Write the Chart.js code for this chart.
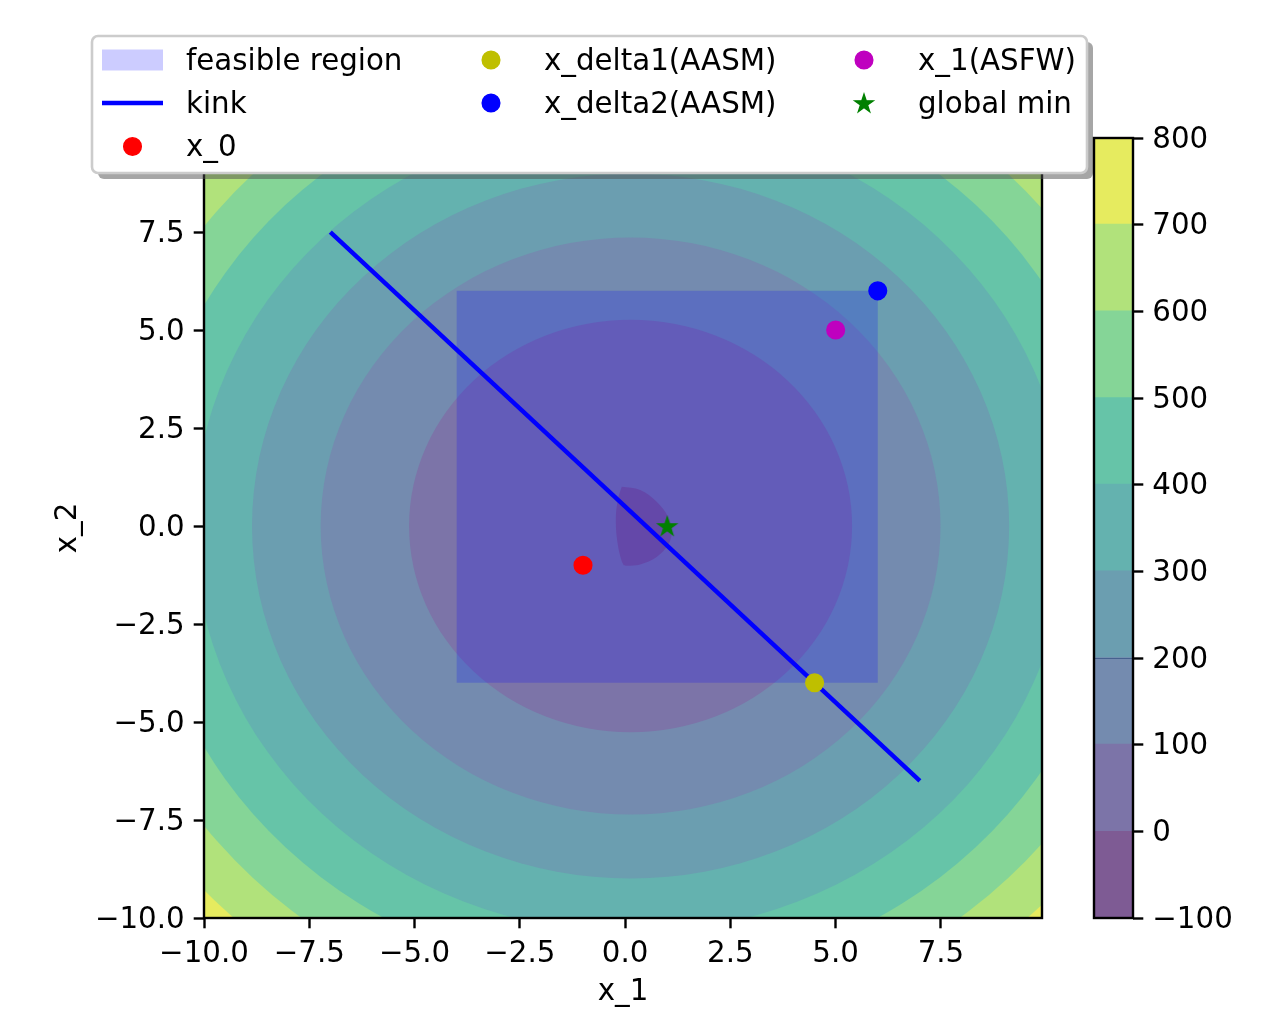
<!DOCTYPE html>
<html><head><meta charset="utf-8">
<script src="https://cdn.jsdelivr.net/npm/chart.js@4.4.1/dist/chart.umd.min.js"></script>
<style>
html,body{margin:0;padding:0;background:#fff;}
#wrap{position:relative;width:1272px;height:1010px;overflow:hidden;background:#fff;}
#main{position:absolute;left:0;top:0;}
#cbar{position:absolute;left:1060px;top:0;}
</style></head><body>
<div id="wrap"><canvas id="main" width="1272" height="1010"></canvas><canvas id="cbar" width="212" height="1010"></canvas></div>
<script>
// ---------------- data ----------------
const xTicks = [-10, -7.5, -5, -2.5, 0, 2.5, 5, 7.5];
const yTicks = [-10, -7.5, -5, -2.5, 0, 2.5, 5, 7.5];
const cbTicks = [-100, 0, 100, 200, 300, 400, 500, 600, 700, 800];
const bandLevels = [-100, 0, 100, 200, 300, 400, 500, 600, 700, 800];
// contour circles (level -> radius around center)
const contourCenter = [0.13, 0];
const contourLevels = [100, 200, 300, 400, 500, 600, 700];
const contourRadii = [5.26, 7.36, 8.99, 10.37, 11.59, 12.69, 13.74];
// region below level 0
const lensX = [-0.08, 0.36, 0.75, 1.02, 1.11, 1.02, 0.75, 0.36, 0.04, -0.04, -0.14, -0.20, -0.22, -0.21, -0.16];
const lensY = [1.0, 0.92, 0.62, 0.24, -0.15, -0.48, -0.79, -0.98, -1.01, -0.99, -0.66, -0.27, 0.07, 0.41, 0.75];
const feasibleX = [-4, 6, 6, -4];
const feasibleY = [-4, -4, 6, 6];
const kinkX = [-7, 7];
const kinkY = [7.5, -6.5];
const pointNames = ['x_0', 'x_delta1(AASM)', 'x_delta2(AASM)', 'x_1(ASFW)', 'global min'];
const pointX = [-1, 4.5, 6, 5, 1];
const pointY = [-1, -4, 6, 5, 0];
const legendLabels = ['feasible region', 'kink', 'x_0', 'x_delta1(AASM)', 'x_delta2(AASM)', 'x_1(ASFW)', 'global min'];

// ---------------- styles ----------------
const FONT = 'DejaVu Sans';
const FS = 29.3;
const bandColors = ['rgb(126,91,148)', 'rgb(124,116,168)', 'rgb(116,139,175)', 'rgb(107,158,176)',
  'rgb(100,178,175)', 'rgb(102,196,168)', 'rgb(133,213,151)', 'rgb(177,226,123)', 'rgb(230,235,95)'];
const pointColors = ['#ff0000', '#bfbf00', '#0000ff', '#bf00bf', '#008000'];
const fmt1 = v => (v < 0 ? '\u2212' : '') + Math.abs(v).toFixed(1);
const fmt0 = v => (v < 0 ? '\u2212' : '') + Math.abs(v).toFixed(0);

function starPath(ctx, cx, cy, R) {
  const r = R * 0.381966;
  ctx.beginPath();
  for (let i = 0; i < 10; i++) {
    const rad = (i % 2 === 0) ? R : r;
    const a = -Math.PI / 2 + i * Math.PI / 5;
    const px = cx + rad * Math.cos(a), py = cy + rad * Math.sin(a);
    if (i === 0) ctx.moveTo(px, py); else ctx.lineTo(px, py);
  }
  ctx.closePath();
}
const starImg = document.createElement('canvas');
starImg.width = 26; starImg.height = 26;
(function () {
  const c = starImg.getContext('2d');
  starPath(c, 13, 13.8, 9.6);
  c.fillStyle = '#008000'; c.fill();
  c.lineWidth = 1.4; c.strokeStyle = '#008000'; c.lineJoin = 'miter'; c.stroke();
})();

Chart.defaults.font.family = FONT;
Chart.defaults.font.size = FS;
Chart.defaults.color = '#000';

const contourPlugin = {
  id: 'contour',
  beforeDatasetsDraw(chart) {
    const {ctx, chartArea: a, scales: {x, y}} = chart;
    ctx.save();
    ctx.beginPath(); ctx.rect(a.left, a.top, a.right - a.left, a.bottom - a.top); ctx.clip();
    ctx.fillStyle = bandColors[bandColors.length - 1];
    ctx.fillRect(a.left, a.top, a.right - a.left, a.bottom - a.top);
    const cx = x.getPixelForValue(contourCenter[0]);
    const cy = y.getPixelForValue(contourCenter[1]);
    for (let i = contourRadii.length - 1; i >= 0; i--) {
      const r = contourRadii[i];
      const rx = Math.abs(x.getPixelForValue(contourCenter[0] + r) - cx);
      const ry = Math.abs(y.getPixelForValue(contourCenter[1] + r) - cy);
      ctx.beginPath(); ctx.ellipse(cx, cy, rx, ry, 0, 0, Math.PI * 2);
      // the band just below this level
      ctx.fillStyle = bandColors[bandLevels.indexOf(contourLevels[i]) - 1];
      ctx.fill();
    }
    ctx.restore();
  }
};
const framePlugin = {
  id: 'frame',
  afterDatasetsDraw(chart) {
    const {ctx, chartArea: a} = chart;
    ctx.save(); ctx.strokeStyle = '#000'; ctx.lineWidth = 2.4;
    ctx.strokeRect(a.left, a.top, a.right - a.left, a.bottom - a.top);
    ctx.restore();
  }
};
function rrect(ctx, x, y, w, h, r) {
  ctx.beginPath();
  ctx.moveTo(x + r, y); ctx.lineTo(x + w - r, y); ctx.arcTo(x + w, y, x + w, y + r, r);
  ctx.lineTo(x + w, y + h - r); ctx.arcTo(x + w, y + h, x + w - r, y + h, r);
  ctx.lineTo(x + r, y + h); ctx.arcTo(x, y + h, x, y + h - r, r);
  ctx.lineTo(x, y + r); ctx.arcTo(x, y, x + r, y, r); ctx.closePath();
}
const legendPlugin = {
  id: 'mplLegend',
  afterDraw(chart) {
    const ctx = chart.ctx;
    const L = 92, T = 36, W = 995, H = 137;
    ctx.save();
    rrect(ctx, L + 6, T + 6, W, H, 6); ctx.fillStyle = 'rgba(77,77,77,0.5)'; ctx.fill();
    rrect(ctx, L, T, W, H, 6); ctx.fillStyle = '#fff'; ctx.fill();
    ctx.strokeStyle = '#cccccc'; ctx.lineWidth = 2.6; ctx.stroke();
    const colText = [186, 544, 918], colHandle = [132.5, 491, 864];
    const rowMid = [60, 103, 146.5], rowBase = [69.5, 112.5, 155.5];
    const slots = [[0, 0], [0, 1], [0, 2], [1, 0], [1, 1], [2, 0], [2, 1]];
    ctx.font = FS + 'px "' + FONT + '"';
    ctx.textBaseline = 'alphabetic'; ctx.textAlign = 'left'; ctx.fillStyle = '#000';
    legendLabels.forEach((lab, i) => {
      const [c, r] = slots[i];
      const hx = colHandle[c], hy = rowMid[r];
      if (i === 0) {
        ctx.fillStyle = 'rgba(0,0,255,0.2)'; ctx.fillRect(hx - 30.5, hy - 10.5, 61, 21);
      } else if (i === 1) {
        ctx.strokeStyle = '#0000ff'; ctx.lineWidth = 4.4; ctx.beginPath();
        ctx.moveTo(hx - 30.5, hy); ctx.lineTo(hx + 30.5, hy); ctx.stroke();
      } else if (i === 6) {
        ctx.drawImage(starImg, hx - 13, hy - 13);
      } else {
        const col = pointColors[pointNames.indexOf(lab)];
        ctx.fillStyle = col; ctx.strokeStyle = col; ctx.lineWidth = 1.5;
        ctx.beginPath(); ctx.arc(hx, hy, 8.8, 0, Math.PI * 2); ctx.fill(); ctx.stroke();
      }
      ctx.fillStyle = '#000';
      ctx.fillText(lab, colText[c], rowBase[r]);
    });
    ctx.restore();
  }
};

const toXY = (xs, ys) => xs.map((v, i) => ({x: v, y: ys[i]}));
const datasets = [];
pointNames.forEach((n, i) => {
  datasets.push({
    type: 'scatter', label: n, data: [{x: pointX[i], y: pointY[i]}],
    pointStyle: n === 'global min' ? starImg : 'circle',
    pointRadius: 8.8, pointHoverRadius: 8.8, pointBorderWidth: 1.5,
    backgroundColor: pointColors[i], borderColor: pointColors[i], order: 1
  });
});
datasets.push({type: 'line', label: 'kink', data: toXY(kinkX, kinkY), borderColor: '#0000ff',
  borderWidth: 4.4, pointRadius: 0, fill: false, order: 2});
datasets.push({type: 'line', label: 'feasible region', data: toXY(feasibleX, feasibleY),
  borderWidth: 0, borderColor: 'rgba(0,0,0,0)', backgroundColor: 'rgba(0,0,255,0.2)',
  pointRadius: 0, fill: 'shape', order: 3});
datasets.push({type: 'line', label: 'below 0', data: toXY(lensX, lensY),
  borderWidth: 0, borderColor: 'rgba(0,0,0,0)', backgroundColor: bandColors[0],
  pointRadius: 0, fill: 'shape', tension: 0.35, order: 4});

new Chart(document.getElementById('main'), {
  type: 'scatter',
  data: {datasets},
  plugins: [contourPlugin, framePlugin, legendPlugin],
  options: {
    responsive: false, animation: false, devicePixelRatio: 1,
    layout: {padding: {left: 0, top: 138, right: 230, bottom: 0}},
    plugins: {legend: {display: false}, tooltip: {enabled: false}, filler: {propagate: false}},
    scales: {
      x: {
        type: 'linear', min: -10, max: 9.9,
        afterBuildTicks: s => { s.ticks = xTicks.map(v => ({value: v})); },
        afterFit: s => { s.height = 92; },
        grid: {display: true, drawOnChartArea: false, drawTicks: true, tickLength: 10.3, tickColor: '#000', tickWidth: 2.4},
        border: {display: false},
        ticks: {callback: v => fmt1(v), autoSkip: false, maxRotation: 0, padding: 9, color: '#000', font: {size: FS, family: FONT}},
        title: {display: true, text: 'x_1', color: '#000', font: {size: FS, family: FONT}, padding: {top: 0, bottom: 0}}
      },
      y: {
        type: 'linear', min: -10, max: 9.9,
        afterBuildTicks: s => { s.ticks = yTicks.map(v => ({value: v})); },
        afterFit: s => { s.width = 204; },
        grid: {display: true, drawOnChartArea: false, drawTicks: true, tickLength: 10.3, tickColor: '#000', tickWidth: 2.4},
        border: {display: false},
        ticks: {callback: v => fmt1(v), autoSkip: false, padding: 9, labelOffset: 2, color: '#000', font: {size: FS, family: FONT}},
        title: {display: true, text: 'x_2', color: '#000', font: {size: FS, family: FONT}, padding: {top: 51, bottom: 0}}
      }
    }
  }
});

// ---------------- colorbar ----------------
const cbDatasets = bandColors.map((c, i) => ({
  label: fmt0(bandLevels[i]) + '..' + fmt0(bandLevels[i + 1]),
  data: [[bandLevels[i], bandLevels[i + 1]]],
  backgroundColor: c, borderWidth: 0, grouped: false, inflateAmount: 0.8,
  barPercentage: 1, categoryPercentage: 1
}));
const cbFrame = {
  id: 'cbFrame',
  afterDatasetsDraw(chart) {
    const {ctx, chartArea: a, scales: {y}} = chart;
    ctx.save();
    // faint seam visible in the reference at the 200 boundary
    const y200 = Math.round(y.getPixelForValue(200)) + 0.5;
    ctx.strokeStyle = 'rgba(40,70,120,0.6)'; ctx.lineWidth = 1;
    ctx.beginPath(); ctx.moveTo(a.left, y200); ctx.lineTo(a.right, y200); ctx.stroke();
    ctx.strokeStyle = '#000'; ctx.lineWidth = 2.4;
    ctx.strokeRect(a.left, a.top, a.right - a.left, a.bottom - a.top);
    ctx.restore();
  }
};
new Chart(document.getElementById('cbar'), {
  type: 'bar',
  data: {labels: [''], datasets: cbDatasets},
  plugins: [cbFrame],
  options: {
    responsive: false, animation: false, devicePixelRatio: 1,
    layout: {padding: {left: 34, top: 138, right: 0, bottom: 92}},
    plugins: {legend: {display: false}, tooltip: {enabled: false}},
    scales: {
      x: {display: false},
      y: {
        position: 'right', min: -100, max: 800,
        afterBuildTicks: s => { s.ticks = cbTicks.map(v => ({value: v})); },
        afterFit: s => { s.width = 139; },
        grid: {display: true, drawOnChartArea: false, drawTicks: true, tickLength: 10.3, tickColor: '#000', tickWidth: 2.4},
        border: {display: false},
        ticks: {callback: v => fmt0(v), autoSkip: false, padding: 9, labelOffset: 2, color: '#000', font: {size: FS, family: FONT}},
      }
    }
  }
});
</script></body></html>
